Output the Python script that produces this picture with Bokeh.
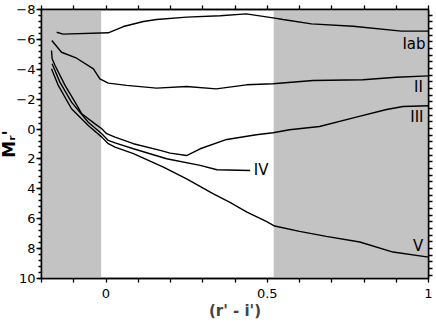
from bokeh.plotting import figure
from bokeh.models import Range1d, LinearAxis, FixedTicker, BoxAnnotation, Title
from bokeh.core.properties import value
from bokeh.embed import file_html
from bokeh.resources import INLINE

# ---- data ----
iab_x = [-0.153, -0.133, 0.007, 0.054, 0.116, 0.157, 0.25, 0.354, 0.435, 0.518, 0.549, 0.637, 0.766, 0.916, 1.0]
iab_y = [-6.48, -6.35, -6.44, -6.86, -7.20, -7.33, -7.49, -7.58, -7.71, -7.44, -7.33, -7.04, -6.88, -6.55, -6.55]

ii_x = [-0.168, -0.138, -0.091, -0.039, -0.019, 0.007, 0.064, 0.157, 0.25, 0.342, 0.435, 0.518, 0.642, 0.797, 0.90, 1.0]
ii_y = [-5.93, -5.14, -4.74, -4.03, -3.36, -3.07, -2.92, -2.74, -2.85, -2.69, -2.96, -3.03, -3.25, -3.30, -3.47, -3.56]

iii_x = [-0.169, -0.167, -0.158, -0.127, -0.096, -0.075, -0.034, -0.013, 0.002, 0.028, 0.085, 0.168, 0.199, 0.25,
         0.292, 0.37, 0.466, 0.518, 0.569, 0.662, 0.776, 0.870, 0.921, 1.0]
iii_y = [-5.26, -4.70, -4.25, -2.92, -1.80, -1.02, -0.35, -0.02, 0.31, 0.54, 0.98, 1.43, 1.61, 1.77,
         1.32, 0.72, 0.38, 0.25, 0.05, -0.17, -0.80, -1.31, -1.51, -1.56]

iv_x = [-0.167, -0.143, -0.107, -0.055, -0.013, 0.007, 0.028, 0.085, 0.188, 0.292, 0.344, 0.447]
iv_y = [-4.37, -3.14, -1.80, -0.46, 0.31, 0.76, 0.92, 1.32, 1.99, 2.43, 2.72, 2.77]

v_x = [-0.169, -0.148, -0.107, -0.055, -0.013, 0.007, 0.028, 0.085, 0.178, 0.25, 0.333, 0.383, 0.437, 0.497,
       0.523, 0.60, 0.683, 0.787, 0.89, 1.0]
v_y = [-4.03, -2.92, -1.36, -0.24, 0.54, 0.98, 1.21, 1.65, 2.55, 3.33, 4.33, 4.89, 5.56, 6.18,
       6.49, 6.85, 7.18, 7.56, 8.23, 8.57]

label_text = ["Iab", "II", "III", "IV", "V"]
label_x = [0.955, 0.969, 0.964, 0.481, 0.968]
label_y = [-5.70, -2.83, -0.80, 2.77, 7.85]

shade_left = [-0.2, -0.015]
shade_right = [0.52, 1.0]

x_major = [0.0, 0.5, 1.0]
x_minor = [-0.2, -0.1, 0.1, 0.2, 0.3, 0.4, 0.6, 0.7, 0.8, 0.9]
x_all = sorted(x_major + x_minor)
y_major = [-8, -6, -4, -2, 0, 2, 4, 6, 8, 10]
y_minor = [round(-8 + 0.4 * i, 1) for i in range(46)]
right_minor = [round(0.25 + (k - 1) / 6, 4) for k in range(41)]

FONT = "DejaVu Sans"

p = figure(width=436, height=327, output_backend="svg", toolbar_location=None,
           x_range=Range1d(-0.2, 1.0), y_range=Range1d(10, -8),
           min_border_left=41, min_border_right=8, min_border_top=9, min_border_bottom=49)
p.extra_y_ranges = {"r": Range1d(0, 6.725)}
p.grid.visible = False
p.outline_line_color = "black"
p.outline_line_width = 1.5
p.background_fill_color = "white"
p.border_fill_color = "white"

p.add_layout(BoxAnnotation(left=shade_left[0], right=shade_left[1], fill_color="#c3c3c3",
                           fill_alpha=1.0, line_color=None, level="underlay"))
p.add_layout(BoxAnnotation(left=shade_right[0], right=shade_right[1], fill_color="#c3c3c3",
                           fill_alpha=1.0, line_color=None, level="underlay"))

for xs, ys in [(iab_x, iab_y), (ii_x, ii_y), (iii_x, iii_y), (iv_x, iv_y), (v_x, v_y)]:
    p.line(xs, ys, line_color="black", line_width=1.4)

p.text(x=label_x, y=label_y, text=label_text, text_align="center", text_baseline="middle",
       text_font=value(FONT), text_font_size="15px", text_color="black")


def style_axis(ax):
    ax.axis_line_width = 1.5
    ax.axis_line_color = "black"
    ax.major_tick_line_color = "black"
    ax.minor_tick_line_color = "black"
    ax.major_tick_line_width = 1.3
    ax.minor_tick_line_width = 1.3
    ax.major_label_text_font = FONT
    ax.major_label_text_font_size = "13px"
    ax.major_label_text_color = "black"


# bottom axis
xa = p.xaxis[0]
xa.ticker = FixedTicker(ticks=x_major, minor_ticks=x_minor)
xa.major_label_overrides = {0.0: "0", 0.5: "0.5", 1.0: "1"}
xa.major_tick_out = 4
xa.major_tick_in = 0
xa.minor_tick_out = 4
xa.minor_tick_in = 0
xa.major_label_standoff = 6
xa.axis_label = "(r' - i')"
xa.axis_label_text_font = FONT
xa.axis_label_text_font_style = "bold"
xa.axis_label_text_font_size = "15px"
xa.axis_label_standoff = 1
style_axis(xa)

# left axis
ya = p.yaxis[0]
ya.ticker = FixedTicker(ticks=y_major, minor_ticks=y_minor)
ya.major_tick_out = 5
ya.major_tick_in = 0
ya.minor_tick_out = 3
ya.minor_tick_in = 0
ya.major_label_standoff = 1
style_axis(ya)

# vertical y-axis title on the left side panel
p.add_layout(Title(text="Mᵣ'", align="center", text_font=FONT, text_font_style="bold",
                   text_font_size="17px", text_color="black", standoff=-10, offset=0), "left")

# top axis (ticks only)
ta = LinearAxis(ticker=FixedTicker(ticks=[], minor_ticks=x_all))
style_axis(ta)
ta.minor_tick_out = 4
ta.minor_tick_in = 0
ta.major_label_standoff = 0
p.add_layout(ta, "above")

# right axis (ticks only)
ra = LinearAxis(y_range_name="r", ticker=FixedTicker(ticks=[], minor_ticks=right_minor))
style_axis(ra)
ra.minor_tick_out = 4
ra.minor_tick_in = 0
ra.major_label_standoff = 0
p.add_layout(ra, "right")

open("out.html", "w").write(file_html(p, INLINE))
